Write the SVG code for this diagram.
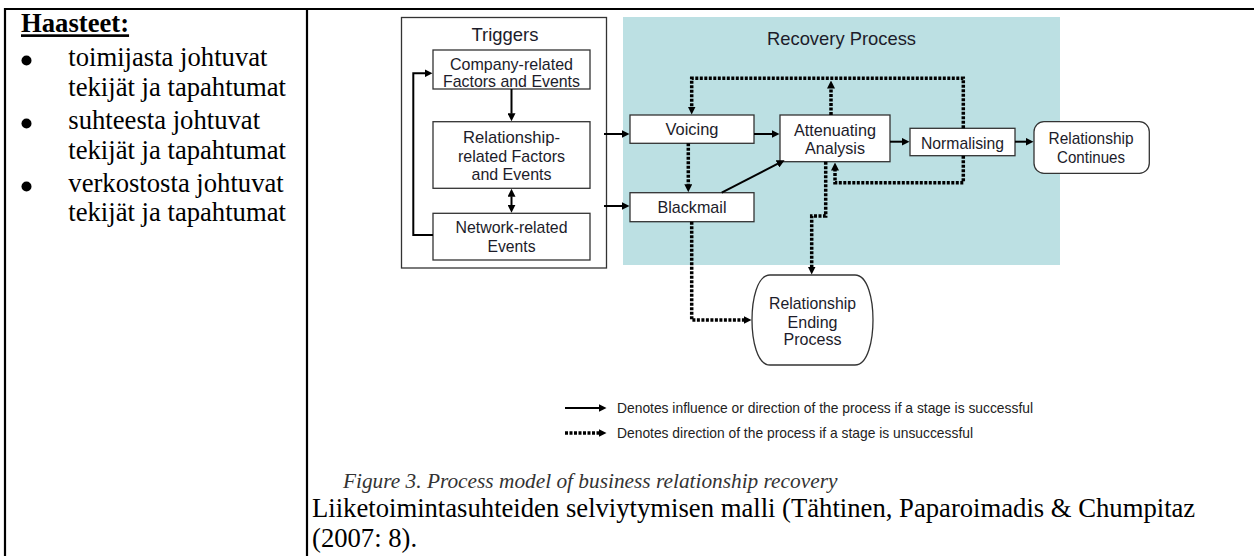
<svg xmlns="http://www.w3.org/2000/svg" width="1254" height="556" viewBox="0 0 1254 556">
<style>
.tbl{stroke:#000;stroke-width:2.2;fill:none}
.body{font-family:"Liberation Serif","Times New Roman",serif;font-size:26.67px;fill:#000}
.box{fill:#fff;stroke:#333;stroke-width:1.3}
.lbl{font-family:"Liberation Sans",Arial,sans-serif;font-size:17px;fill:#1c1c2a;text-anchor:middle}
.ttl{font-family:"Liberation Sans",Arial,sans-serif;font-size:19px;fill:#1c1c2a;text-anchor:middle}
.sol{fill:none;stroke:#000;stroke-width:2}
.dot{fill:none;stroke:#000;stroke-width:3.5;stroke-dasharray:3 1.5}
.leg{font-family:"Liberation Sans",Arial,sans-serif;font-size:14.5px;fill:#222}
</style>
<defs>
<marker id="ah" viewBox="0 0 8 8" markerUnits="userSpaceOnUse" markerWidth="8" markerHeight="8" refX="0.5" refY="4" orient="auto-start-reverse">
<path d="M0,0 L8,4 L0,8 z" fill="#000"/>
</marker>
</defs>
<rect width="1254" height="556" fill="#fff"/>
<g id="table">
<line class="tbl" x1="4" y1="9" x2="1254" y2="9"/>
<line class="tbl" x1="5" y1="8" x2="5" y2="556"/>
<line class="tbl" x1="307" y1="8" x2="307" y2="556"/>
</g>
<g id="challenges">
<text class="body" x="21" y="32.3" font-weight="bold" text-decoration="underline">Haasteet:</text>
<circle cx="26.5" cy="60.5" r="5"/>
<circle cx="26.5" cy="123.5" r="5"/>
<circle cx="26.5" cy="186.5" r="5"/>
<text class="body" x="68.3" y="66">toimijasta johtuvat</text>
<text class="body" x="68.3" y="96">tekijät ja tapahtumat</text>
<text class="body" x="68.3" y="129">suhteesta johtuvat</text>
<text class="body" x="68.3" y="158.5">tekijät ja tapahtumat</text>
<text class="body" x="68.3" y="191.5">verkostosta johtuvat</text>
<text class="body" x="68.3" y="220.5">tekijät ja tapahtumat</text>
</g>
<g id="recovery-process">
<rect x="623" y="17" width="437" height="248" fill="#bce0e3"/>
<text class="ttl" x="841.5" y="45" textLength="149" lengthAdjust="spacingAndGlyphs">Recovery Process</text>
</g>
<g id="triggers">
<rect x="401.5" y="17.5" width="205" height="250.5" fill="none" stroke="#333" stroke-width="1.3"/>
<text class="ttl" x="505" y="40.5" textLength="67" lengthAdjust="spacingAndGlyphs">Triggers</text>
</g>
<g id="company-related">
<rect class="box" x="433" y="50" width="157" height="39"/>
<text class="lbl" x="511.5" y="69.5" textLength="123" lengthAdjust="spacingAndGlyphs">Company-related</text>
<text class="lbl" x="511.5" y="86.5" textLength="137" lengthAdjust="spacingAndGlyphs">Factors and Events</text>
</g>
<g id="relationship-related">
<rect class="box" x="433" y="121.7" width="157" height="66.6"/>
<text class="lbl" x="511.5" y="142.7" textLength="97" lengthAdjust="spacingAndGlyphs">Relationship-</text>
<text class="lbl" x="511.5" y="161.7" textLength="107" lengthAdjust="spacingAndGlyphs">related Factors</text>
<text class="lbl" x="511.5" y="180.3" textLength="80" lengthAdjust="spacingAndGlyphs">and Events</text>
</g>
<g id="network-related">
<rect class="box" x="433" y="213.3" width="157" height="46.7"/>
<text class="lbl" x="511.5" y="232.7" textLength="112" lengthAdjust="spacingAndGlyphs">Network-related</text>
<text class="lbl" x="511.5" y="252" textLength="48" lengthAdjust="spacingAndGlyphs">Events</text>
</g>
<g id="voicing">
<rect class="box" x="630" y="115" width="124" height="28.3"/>
<text class="lbl" x="692" y="135" textLength="53" lengthAdjust="spacingAndGlyphs">Voicing</text>
</g>
<g id="blackmail">
<rect class="box" x="630" y="192.7" width="124" height="29"/>
<text class="lbl" x="692" y="212.7" textLength="69" lengthAdjust="spacingAndGlyphs">Blackmail</text>
</g>
<g id="attenuating-analysis">
<rect class="box" x="780" y="115" width="110" height="46.7"/>
<text class="lbl" x="835" y="136" textLength="82" lengthAdjust="spacingAndGlyphs">Attenuating</text>
<text class="lbl" x="835" y="154.3" textLength="60" lengthAdjust="spacingAndGlyphs">Analysis</text>
</g>
<g id="normalising">
<rect class="box" x="910" y="128.3" width="105" height="27.4"/>
<text class="lbl" x="962.5" y="149.3" textLength="83" lengthAdjust="spacingAndGlyphs">Normalising</text>
</g>
<g id="relationship-continues">
<rect class="box" x="1034" y="121.7" width="115.3" height="51.6" rx="10"/>
<text class="lbl" x="1091" y="144.3" textLength="85" lengthAdjust="spacingAndGlyphs">Relationship</text>
<text class="lbl" x="1091" y="162.7" textLength="68" lengthAdjust="spacingAndGlyphs">Continues</text>
</g>
<g id="relationship-ending">
<path class="box" d="M770,275 H855 C868,275 873,300 873,320 C873,340 868,365 855,365 H770 C757,365 752,340 752,320 C752,300 757,275 770,275 Z"/>
<text class="lbl" x="812.5" y="308.7" textLength="87" lengthAdjust="spacingAndGlyphs">Relationship</text>
<text class="lbl" x="812.5" y="327.7" textLength="50" lengthAdjust="spacingAndGlyphs">Ending</text>
<text class="lbl" x="812.5" y="345.3" textLength="58" lengthAdjust="spacingAndGlyphs">Process</text>
</g>
<g id="connectors">
<path class="sol" d="M511.5,89 V113.7" marker-end="url(#ah)"/>
<path class="sol" d="M511.5,196.3 V205.3" marker-start="url(#ah)" marker-end="url(#ah)"/>
<path class="sol" d="M433,235 H413.3 V73.3 H425" marker-end="url(#ah)"/>
<path class="sol" d="M604,134 H622" marker-end="url(#ah)"/>
<path class="sol" d="M604,206 H622" marker-end="url(#ah)"/>
<path class="sol" d="M754,134 H772" marker-end="url(#ah)"/>
<path class="sol" d="M721.7,192.7 L777.9,163.7" marker-end="url(#ah)"/>
<path class="sol" d="M890,141.7 H902" marker-end="url(#ah)"/>
<path class="sol" d="M1015,141.7 H1026" marker-end="url(#ah)"/>
<path class="dot" d="M688.3,143.3 V184.7" marker-end="url(#ah)"/>
<path class="dot" d="M963.3,128.3 V78.3 H691.7 V107" marker-end="url(#ah)"/>
<path class="dot" d="M831,115 V88" marker-end="url(#ah)"/>
<path class="dot" d="M963.3,155.7 V182.7 H835 V170" marker-end="url(#ah)"/>
<path class="dot" d="M825.7,161.7 V216 H811.7 V267" marker-end="url(#ah)"/>
<path class="dot" d="M691.7,221.7 V320 H744" marker-end="url(#ah)"/>
</g>
<g id="legend">
<path class="sol" d="M565,408 H599" marker-end="url(#ah)"/>
<path class="dot" d="M565,433 H599" marker-end="url(#ah)"/>
<text class="leg" x="617" y="413" textLength="416" lengthAdjust="spacingAndGlyphs">Denotes influence or direction of the process if a stage is successful</text>
<text class="leg" x="617" y="438" textLength="356" lengthAdjust="spacingAndGlyphs">Denotes direction of the process if a stage is unsuccessful</text>
</g>
<g id="caption">
<text x="343" y="488" font-family="'Liberation Serif','Times New Roman',serif" font-size="21.33" font-style="italic" fill="#333">Figure 3. Process model of business relationship recovery</text>
<text class="body" x="312" y="517">Liiketoimintasuhteiden selviytymisen malli (Tähtinen, Paparoimadis &amp; Chumpitaz</text>
<text class="body" x="312" y="547">(2007: 8).</text>
</g>
</svg>
